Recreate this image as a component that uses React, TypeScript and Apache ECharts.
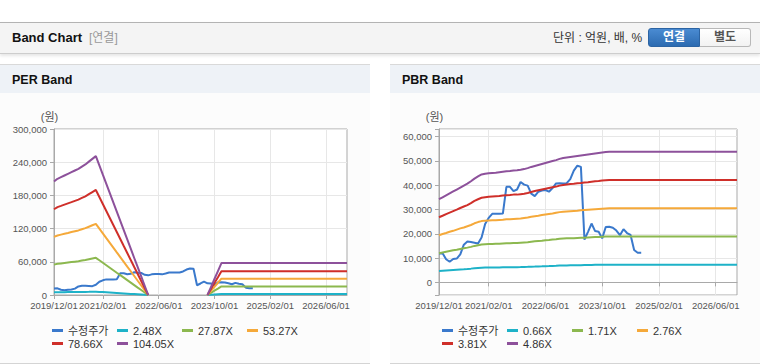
import React, { useEffect, useRef } from 'react';
import * as echarts from 'echarts';

const FONT = '"Liberation Sans", Arial, "Noto Sans CJK KR", sans-serif';

// Monthly categories 2019/12/01 .. 2026/12/01
const categories: string[] = (() => {
  const out: string[] = [];
  let y = 2019;
  let m = 12;
  while (y < 2027) {
    out.push(`${y}/${String(m).padStart(2, '0')}/01`);
    m += 1;
    if (m > 12) { m = 1; y += 1; }
  }
  return out;
})();

const xTickLabels = ['2019/12/01', '2021/02/01', '2022/06/01', '2023/10/01', '2025/02/01', '2026/06/01'];

const perLegendNames = ['수정주가', '2.48X', '27.87X', '53.27X', '78.66X', '104.05X'];
const pbrLegendNames = ['수정주가', '0.66X', '1.71X', '2.76X', '3.81X', '4.86X'];
const seriesColors = ['#3a79cc', '#1eb2c8', '#8cb84f', '#f5a93a', '#cf2f2a', '#8d519b'];

const perYTicks = [0, 60000, 120000, 180000, 240000, 300000];
const pbrYTicks = [0, 10000, 20000, 30000, 40000, 50000, 60000];

const priceValues = [
  11900, 12000, 9500, 8500, 9600, 9800, 11500, 15500, 16800, 16600, 16300, 16000,
  18500, 24000, 26500, 28200, 28200, 28200, 28300, 39300, 39300, 37500, 38200, 41300,
  40200, 39800, 36500, 35500, 37300, 37800, 38000, 37300, 38800, 40700, 40800, 40700,
  40800, 42500, 46000, 48000, 47500, 17600, 20800, 24200, 21100, 20800, 18100, 22800,
  22900, 22500, 21300, 19400, 21900, 20300, 19500, 13300, 12200, 12200,
  null, null, null, null, null, null, null, null, null, null, null, null, null, null,
  null, null, null, null, null, null, null, null, null, null, null, null, null,
];

const perBand248 = [
  4900, 5000, 5100, 5100, 5200, 5300, 5400, 5400, 5500, 5600, 5700, 5900, 6000,
  5600, 5200, 4800, 4400, 4000, 3600, 3200, 2800, 2400, 2000, 1600, 1200, 800, 400, 0,
  null, null, null, null, null, null, null, null, null, null, null, null, null, null, null, null,
  0, 500, 1000, 1500,
  2000, 2000, 2000, 2000, 2000, 2000, 2000, 2000, 2000, 2000, 2000, 2000, 2000,
  2000, 2000, 2000, 2000, 2000, 2000, 2000, 2000, 2000, 2000, 2000, 2000, 2000,
  2000, 2000, 2000, 2000, 2000, 2000, 2000, 2000, 2000, 2000, 2000,
];
const perBand2787 = [
  54900, 56300, 57100, 57900, 58700, 59500, 60300, 61100, 62200, 63200, 64600, 65900, 67200,
  62800, 58300, 53800, 49300, 44800, 40300, 35900, 31400, 26900, 22400, 17900, 13400, 9000, 4500, 0,
  null, null, null, null, null, null, null, null, null, null, null, null, null, null, null, null,
  0, 3900, 7800, 11600,
  15500, 15500, 15500, 15500, 15500, 15500, 15500, 15500, 15500, 15500, 15500, 15500, 15500,
  15500, 15500, 15500, 15500, 15500, 15500, 15500, 15500, 15500, 15500, 15500, 15500, 15500,
  15500, 15500, 15500, 15500, 15500, 15500, 15500, 15500, 15500, 15500, 15500,
];
const perBand5327 = [
  105000, 107500, 109100, 110600, 112100, 113700, 115200, 116700, 118800, 120800, 123400, 126000, 128500,
  120000, 111400, 102800, 94300, 85700, 77100, 68600, 60000, 51400, 42900, 34300, 25700, 17200, 8600, 0,
  null, null, null, null, null, null, null, null, null, null, null, null, null, null, null, null,
  0, 7400, 14700, 22100,
  29500, 29500, 29500, 29500, 29500, 29500, 29500, 29500, 29500, 29500, 29500, 29500, 29500,
  29500, 29500, 29500, 29500, 29500, 29500, 29500, 29500, 29500, 29500, 29500, 29500, 29500,
  29500, 29500, 29500, 29500, 29500, 29500, 29500, 29500, 29500, 29500, 29500,
];
const perBand7866 = [
  155000, 158800, 161000, 163300, 165600, 167800, 170100, 172400, 175400, 178400, 182200, 186000, 189800,
  177100, 164400, 151800, 139200, 126500, 113900, 101200, 88500, 75900, 63300, 50600, 38000, 25300, 12600, 0,
  null, null, null, null, null, null, null, null, null, null, null, null, null, null, null, null,
  0, 10700, 21500, 32200,
  43000, 43000, 43000, 43000, 43000, 43000, 43000, 43000, 43000, 43000, 43000, 43000, 43000,
  43000, 43000, 43000, 43000, 43000, 43000, 43000, 43000, 43000, 43000, 43000, 43000, 43000,
  43000, 43000, 43000, 43000, 43000, 43000, 43000, 43000, 43000, 43000, 43000,
];
const perBand10405 = [
  205000, 210000, 213000, 216000, 219000, 222000, 225000, 228000, 232000, 236000, 241000, 246000, 251000,
  234300, 217500, 200800, 184100, 167300, 150600, 133900, 117100, 100400, 83700, 66900, 50200, 33500, 16700, 0,
  null, null, null, null, null, null, null, null, null, null, null, null, null, null, null, null,
  0, 14400, 28900, 43300,
  57700, 57700, 57700, 57700, 57700, 57700, 57700, 57700, 57700, 57700, 57700, 57700, 57700,
  57700, 57700, 57700, 57700, 57700, 57700, 57700, 57700, 57700, 57700, 57700, 57700, 57700,
  57700, 57700, 57700, 57700, 57700, 57700, 57700, 57700, 57700, 57700, 57700,
];

const pbrBand066 = [
  4640, 4750, 4860, 4970, 5080, 5190, 5300, 5400, 5510, 5650, 5800, 5920,
  6030, 6070, 6100, 6110, 6120, 6150, 6180, 6210, 6220, 6250, 6260, 6290,
  6330, 6380, 6450, 6500, 6560, 6610, 6670, 6720, 6780, 6830, 6900, 6950,
  6980, 7010, 7030, 7060, 7090, 7120, 7140, 7170, 7200, 7220, 7250, 7280,
  7290, 7290, 7290, 7290, 7290, 7290, 7290, 7290, 7290, 7290, 7290, 7290, 7290,
  7290, 7290, 7290, 7290, 7290, 7290, 7290, 7290, 7290, 7290, 7290, 7290, 7290,
  7290, 7290, 7290, 7290, 7290, 7290, 7290, 7290, 7290, 7290, 7290,
];
const pbrBand171 = [
  12000, 12300, 12600, 12900, 13200, 13400, 13700, 14000, 14300, 14600, 15000, 15300,
  15600, 15700, 15800, 15800, 15900, 15900, 16000, 16100, 16100, 16200, 16200, 16300,
  16400, 16500, 16700, 16900, 17000, 17100, 17300, 17400, 17600, 17700, 17900, 18000,
  18100, 18200, 18200, 18300, 18400, 18400, 18500, 18600, 18700, 18700, 18800, 18900,
  18900, 18900, 18900, 18900, 18900, 18900, 18900, 18900, 18900, 18900, 18900, 18900, 18900,
  18900, 18900, 18900, 18900, 18900, 18900, 18900, 18900, 18900, 18900, 18900, 18900, 18900,
  18900, 18900, 18900, 18900, 18900, 18900, 18900, 18900, 18900, 18900, 18900,
];
const pbrBand276 = [
  19400, 19900, 20300, 20800, 21200, 21700, 22200, 22600, 23100, 23600, 24300, 24800,
  25200, 25400, 25500, 25600, 25600, 25700, 25800, 26000, 26000, 26100, 26200, 26300,
  26500, 26700, 27000, 27200, 27400, 27700, 27900, 28100, 28300, 28600, 28900, 29100,
  29200, 29300, 29400, 29500, 29700, 29800, 29900, 30000, 30100, 30200, 30300, 30400,
  30500, 30500, 30500, 30500, 30500, 30500, 30500, 30500, 30500, 30500, 30500, 30500, 30500,
  30500, 30500, 30500, 30500, 30500, 30500, 30500, 30500, 30500, 30500, 30500, 30500, 30500,
  30500, 30500, 30500, 30500, 30500, 30500, 30500, 30500, 30500, 30500, 30500,
];
const pbrBand381 = [
  26800, 27400, 28100, 28700, 29300, 29900, 30600, 31200, 31800, 32600, 33500, 34200,
  34800, 35000, 35200, 35300, 35400, 35500, 35700, 35800, 35900, 36100, 36100, 36300,
  36500, 36800, 37200, 37600, 37900, 38200, 38500, 38800, 39100, 39400, 39800, 40100,
  40300, 40500, 40600, 40800, 40900, 41100, 41200, 41400, 41600, 41700, 41900, 42000,
  42100, 42100, 42100, 42100, 42100, 42100, 42100, 42100, 42100, 42100, 42100, 42100, 42100,
  42100, 42100, 42100, 42100, 42100, 42100, 42100, 42100, 42100, 42100, 42100, 42100, 42100,
  42100, 42100, 42100, 42100, 42100, 42100, 42100, 42100, 42100, 42100, 42100,
];
const pbrBand486 = [
  34200, 35000, 35800, 36600, 37400, 38200, 39000, 39800, 40600, 41600, 42700, 43600,
  44400, 44700, 44900, 45000, 45100, 45300, 45500, 45700, 45800, 46000, 46100, 46300,
  46600, 47000, 47500, 47900, 48300, 48700, 49100, 49500, 49900, 50300, 50800, 51200,
  51400, 51600, 51800, 52000, 52200, 52400, 52600, 52800, 53000, 53200, 53400, 53600,
  53700, 53700, 53700, 53700, 53700, 53700, 53700, 53700, 53700, 53700, 53700, 53700, 53700,
  53700, 53700, 53700, 53700, 53700, 53700, 53700, 53700, 53700, 53700, 53700, 53700, 53700,
  53700, 53700, 53700, 53700, 53700, 53700, 53700, 53700, 53700, 53700, 53700,
];

const perSeriesData = [priceValues, perBand248, perBand2787, perBand5327, perBand7866, perBand10405];
const pbrSeriesData = [priceValues, pbrBand066, pbrBand171, pbrBand276, pbrBand381, pbrBand486];

const legendSlots = [
  [52, 232], [117, 232], [182, 232], [247, 232], [52, 245], [117, 245],
];

const AXIS_COLOR = '#a9a9a9';
const GRID_COLOR = '#e7e7e7';
const LABEL_COLOR = '#555';

type ChartProps = {
  names: string[];
  data: (number | null)[][];
  gridLeft: number;
  yMin: number;
  yMax: number;
  yTicks: number[];
  fixedInterval?: number;
};

function BandChart({ names, data, gridLeft, yMin, yMax, yTicks, fixedInterval }: ChartProps) {
  const ref = useRef<HTMLDivElement>(null);
  useEffect(() => {
    if (!ref.current) return;
    const chart = echarts.init(ref.current, undefined, { renderer: 'svg' });
    const showLabel = (_i: number, v: string) => xTickLabels.includes(v);
    const step = yTicks[1] - yTicks[0];
    const yAxis: any = {
      type: 'value',
      min: yMin,
      max: yMax,
      name: '(원)',
      nameLocation: 'end',
      nameGap: 12,
      nameTextStyle: {
        fontSize: 11, color: LABEL_COLOR, fontFamily: FONT,
        align: 'center', verticalAlign: 'middle', padding: [0, 9, 0, 0],
      },
      axisLine: { show: true, lineStyle: { color: AXIS_COLOR, width: 1 } },
      axisTick: { show: true, length: 4, lineStyle: { color: AXIS_COLOR } },
      axisLabel: {
        margin: 7, fontSize: 9.5, color: LABEL_COLOR, fontFamily: FONT,
        formatter: (v: number) => (yTicks.includes(v) ? v.toLocaleString('en-US') : ''),
      },
      splitLine: { show: true, lineStyle: { color: GRID_COLOR, width: 1 } },
    };
    if (fixedInterval) {
      yAxis.interval = fixedInterval;
    } else {
      yAxis.minInterval = step;
      yAxis.maxInterval = step;
    }
    chart.setOption({
      animation: false,
      textStyle: { fontFamily: FONT },
      grid: {
        left: gridLeft, right: 23, top: 36, bottom: 68,
        show: true, borderColor: AXIS_COLOR, borderWidth: 1, backgroundColor: '#ffffff',
        containLabel: false, outerBoundsMode: 'none',
      },
      xAxis: {
        type: 'category',
        data: categories,
        boundaryGap: false,
        axisLine: { show: true, lineStyle: { color: AXIS_COLOR, width: 1 } },
        axisTick: { show: true, interval: showLabel, length: 4, lineStyle: { color: AXIS_COLOR } },
        axisLabel: { interval: showLabel, margin: 6, fontSize: 9.5, color: LABEL_COLOR, fontFamily: FONT },
        splitLine: { show: true, interval: showLabel, lineStyle: { color: GRID_COLOR, width: 1 } },
      },
      yAxis,
      legend: names.map((n, i) => ({
        data: [n],
        left: legendSlots[i][0],
        top: legendSlots[i][1],
        padding: 0,
        itemWidth: 11,
        itemHeight: 3,
        itemGap: 0,
        itemTextGap: 4,
        icon: 'rect',
        selectedMode: false,
        textStyle: { fontSize: 11, color: '#333', lineHeight: 11, fontFamily: FONT },
      })),
      series: names.map((n, i) => ({
        name: n,
        type: 'line',
        data: data[i],
        symbol: 'none',
        showSymbol: false,
        connectNulls: false,
        silent: true,
        lineStyle: { width: 2, color: seriesColors[i] },
        itemStyle: { color: seriesColors[i] },
        emphasis: { disabled: true },
      })),
    });
    return () => chart.dispose();
  }, []);
  return <div ref={ref} style={{ position: 'absolute', left: 0, top: 28, width: 370, height: 270 }} />;
}

function Panel({ left, title, children }: { left: number; title: string; children: React.ReactNode }) {
  return (
    <div style={{
      position: 'absolute', left, top: 64, width: 370, height: 298,
      borderTop: '1px solid #d9d9d9', borderBottom: '1px solid #d4d4d4', background: '#fcfcfc',
    }}>
      <div style={{
        position: 'absolute', left: 0, top: 0, width: 370, height: 28, background: '#eef2f7',
      }}>
        <span style={{
          position: 'absolute', left: 12, top: 0, lineHeight: '31px', fontSize: 12.5,
          fontWeight: 'bold', color: '#111',
        }}>{title}</span>
      </div>
      {children}
    </div>
  );
}

export default function App() {
  return (
    <div style={{
      position: 'absolute', left: 0, top: 0, width: 760, height: 364, background: '#ffffff',
      fontFamily: FONT, overflow: 'hidden',
    }}>
      <div style={{
        position: 'absolute', left: 0, top: 22, width: 760, height: 30, background: '#f4f4f4',
        borderTop: '1px solid #b3b3b3', borderBottom: '1px solid #cdcdcd',
        boxShadow: '0 2px 3px rgba(0,0,0,0.10)',
      }}>
        <span style={{ position: 'absolute', left: 12, top: 0, lineHeight: '30px', fontSize: 13, fontWeight: 'bold', color: '#111' }}>
          Band Chart
        </span>
        <span style={{ position: 'absolute', left: 89, top: 0, lineHeight: '30px', fontSize: 12, color: '#999' }}>
          [연결]
        </span>
        <span style={{ position: 'absolute', left: 553, top: 0, lineHeight: '31px', fontSize: 12, color: '#333' }}>
          단위 : 억원, 배, %
        </span>
        <div style={{
          position: 'absolute', left: 648, top: 5, width: 52, height: 19, boxSizing: 'border-box',
          background: 'linear-gradient(#4a8bd2, #2c6bb1)', border: '1px solid #2c64a3',
          borderRadius: '3px 0 0 3px', color: '#fff', fontSize: 12, fontWeight: 'bold',
          textAlign: 'center', lineHeight: '17px',
        }}>연결</div>
        <div style={{
          position: 'absolute', left: 700, top: 5, width: 51, height: 19, boxSizing: 'border-box',
          background: 'linear-gradient(#ffffff, #f2f2f2)', border: '1px solid #b8b8b8', borderLeft: 'none',
          borderRadius: '0 3px 3px 0', color: '#555', fontSize: 12, fontWeight: 'bold',
          textAlign: 'center', lineHeight: '17px',
        }}>별도</div>
      </div>
      <Panel left={0} title="PER Band">
        <BandChart names={perLegendNames} data={perSeriesData} gridLeft={54}
          yMin={0} yMax={300000} yTicks={perYTicks} fixedInterval={60000} />
      </Panel>
      <Panel left={390} title="PBR Band">
        <BandChart names={pbrLegendNames} data={pbrSeriesData} gridLeft={49}
          yMin={-5200} yMax={63100} yTicks={pbrYTicks} />
      </Panel>
    </div>
  );
}
